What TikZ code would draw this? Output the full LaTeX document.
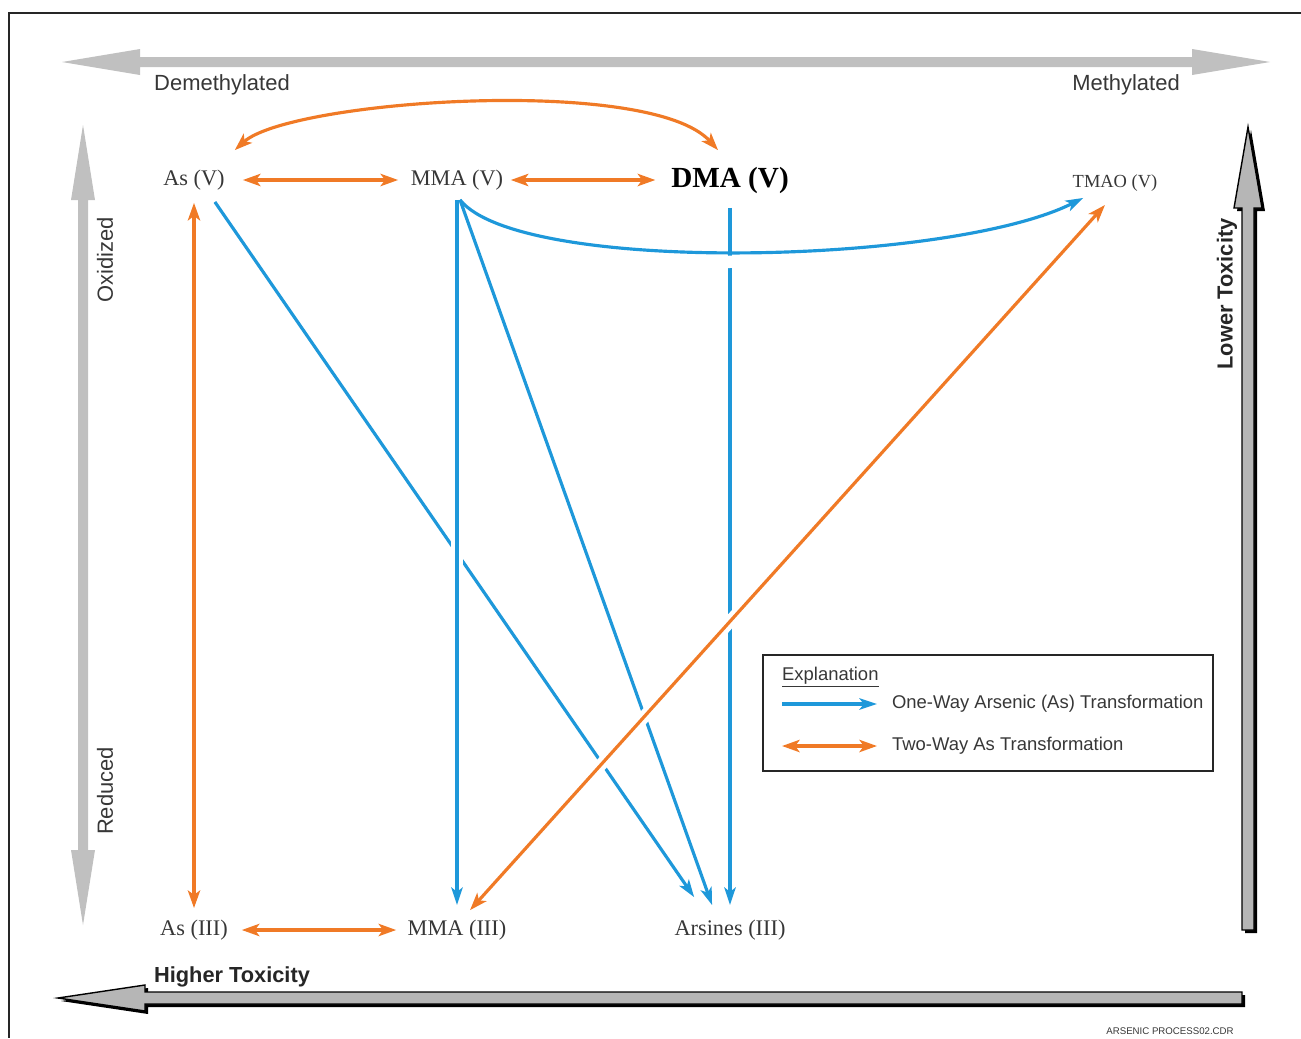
\documentclass[tikz,border=0pt]{standalone}
\usepackage{fontspec}
\setmainfont{Liberation Serif}
\setsansfont{Liberation Sans}
\usepackage{xcolor}
\usetikzlibrary{arrows.meta, positioning}

\definecolor{asblue}{RGB}{30,152,218}
\definecolor{asorange}{RGB}{240,122,38}
\definecolor{axisgray}{RGB}{192,192,192}
\definecolor{labelgray}{RGB}{55,55,55}

\begin{document}
\begin{tikzpicture}[x=0.02cm, y=-0.02cm,
    oneway/.style={-{Stealth[length=10pt, width=6.5pt, inset=2.5pt]}, line width=1.8pt, asblue},
    twoway/.style={{Stealth[length=10pt, width=7pt, inset=2.5pt]}-{Stealth[length=10pt, width=7pt, inset=2.5pt]}, line width=1.8pt, asorange},
    halo/.style 2 args={preaction={draw=white, -, line width=7pt, shorten <=#1, shorten >=#2}},
    species/.style={font=\fontsize{12.7}{14}\selectfont, text=labelgray, inner sep=1pt},
    axislabel/.style={font=\sffamily\fontsize{12.5}{14}\selectfont, text=labelgray, inner sep=1pt},
    toxlabel/.style={font=\sffamily\bfseries\fontsize{12.4}{14}\selectfont, text=black!85, inner sep=1pt},
    legendtext/.style={font=\sffamily\fontsize{10.5}{12}\selectfont, text=labelgray, anchor=west, inner sep=1pt}]
    \useasboundingbox (0,0) rectangle (1301,1038);

    % Frame
    \draw[line width=1.6pt, black!85] (1301,13) -- (9,13) -- (9,1038);

    % Methylation axis (top)
    \fill[axisgray] (62,62) -- (140,49) -- (140,57) -- (1192,57) -- (1192,49) -- (1270,62)
        -- (1192,75) -- (1192,67) -- (140,67) -- (140,75) -- cycle;
    \node[axislabel] at (222,85) {Demethylated};
    \node[axislabel] at (1126,85) {Methylated};

    % Oxidation axis (left)
    \fill[axisgray] (83,125) -- (71,200) -- (78,200) -- (78,850) -- (71,850) -- (83,925)
        -- (95,850) -- (88,850) -- (88,200) -- (95,200) -- cycle;
    \node[axislabel, rotate=90] at (105,260) {Oxidized};
    \node[axislabel, rotate=90] at (105,791) {Reduced};

    % Toxicity arrows
    \fill[black] (1251,130) -- (1265,211) -- (1257,211) -- (1257,933) -- (1245,933) -- (1245,211) -- (1237,211) -- cycle;
    \filldraw[fill=axisgray!95!black, draw=black, line width=0.8pt]
        (1248,127) -- (1262,208) -- (1254,208) -- (1254,930) -- (1242,930) -- (1242,208) -- (1234,208) -- cycle;
    \node[toxlabel, rotate=90] at (1227,294) {Lower Toxicity};

    \fill[black] (61,1001) -- (148,988) -- (148,995) -- (1245,995) -- (1245,1007) -- (148,1007) -- (148,1014) -- cycle;
    \filldraw[fill=axisgray!95!black, draw=black, line width=0.8pt]
        (58,998) -- (145,985) -- (145,992) -- (1242,992) -- (1242,1004) -- (145,1004) -- (145,1011) -- cycle;
    \node[toxlabel] at (232,977) {Higher Toxicity};

    % Arsenic species
    \node[species] (asV) at (194,180) {As (V)};
    \node[species] (mmaV) at (457,180) {MMA (V)};
    \node[species, font=\bfseries\fontsize{16.6}{18}\selectfont, text=black] (dmaV) at (730,180) {DMA (V)};
    \node[species, font=\fontsize{10.5}{12}\selectfont] (tmaoV) at (1115,183) {TMAO (V)};
    \node[species] (asIII) at (194,930) {As (III)};
    \node[species] (mmaIII) at (457,930) {MMA (III)};
    \node[species] (arsIII) at (730,930) {Arsines (III)};

    % One-way transformations
    \draw[oneway] ([xshift=11.9pt, yshift=-12.5pt]asV.center) -- ([xshift=-20.4pt, yshift=18.7pt]arsIII.center);
    \draw[oneway] ([xshift=1.7pt, yshift=-11.3pt]mmaV.center) -- ([xshift=-10.2pt, yshift=14.2pt]arsIII.center);
    \draw[oneway] ([yshift=-15.9pt]dmaV.center) -- ([yshift=14.2pt]arsIII.center);
    \draw[oneway, halo={40pt}{30pt}] ([yshift=-11.3pt]mmaV.center) -- ([yshift=14.2pt]mmaIII.center);
    \draw[oneway, halo={40pt}{20pt}] ([xshift=1.7pt, yshift=-11.3pt]mmaV.center) .. controls (520,275) and (950,265) .. ([xshift=-18.1pt, yshift=-8.5pt]tmaoV.center);

    % Two-way transformations
    \draw[twoway] ([xshift=27.8pt]asV.center) -- ([xshift=-33.5pt]mmaV.center);
    \draw[twoway] ([xshift=30.6pt]mmaV.center) -- ([xshift=-42.5pt]dmaV.center);
    \draw[twoway] ([xshift=27.2pt]asIII.center) -- ([xshift=-34.6pt]mmaIII.center);
    \draw[twoway] ([yshift=-13pt]asV.center) -- ([yshift=12.5pt]asIII.center);
    \draw[twoway] ([xshift=23.2pt, yshift=17pt]asV.center) .. controls (290,100) and (650,75) .. ([xshift=-6.8pt, yshift=17pt]dmaV.center);
    \draw[twoway, halo={30pt}{30pt}] ([xshift=7.4pt, yshift=11.3pt]mmaIII.center) -- ([xshift=-5.7pt, yshift=-12.5pt]tmaoV.center);

    % Explanation box
    \draw[line width=1.3pt, black!85] (763,655) rectangle (1213,771);
    \node[legendtext] (explain) at (780,677) {\underline{Explanation}};
    \coordinate (blueA) at (782,704);
    \coordinate (blueB) at (877,704);
    \coordinate (orangeA) at (782,746);
    \coordinate (orangeB) at (877,746);
    \draw[oneway] (blueA) -- (blueB);
    \draw[twoway] (orangeA) -- (orangeB);
    \node[legendtext] (oneText) at (890,704) {One-Way Arsenic (As) Transformation};
    \node[legendtext] (twoText) at (890,746) {Two-Way As Transformation};

    % File tag
    \node[font=\sffamily\fontsize{5.5}{6}\selectfont, text=labelgray] (tag) at (1170,1031) {ARSENIC PROCESS02.CDR};
\end{tikzpicture}
\end{document}
